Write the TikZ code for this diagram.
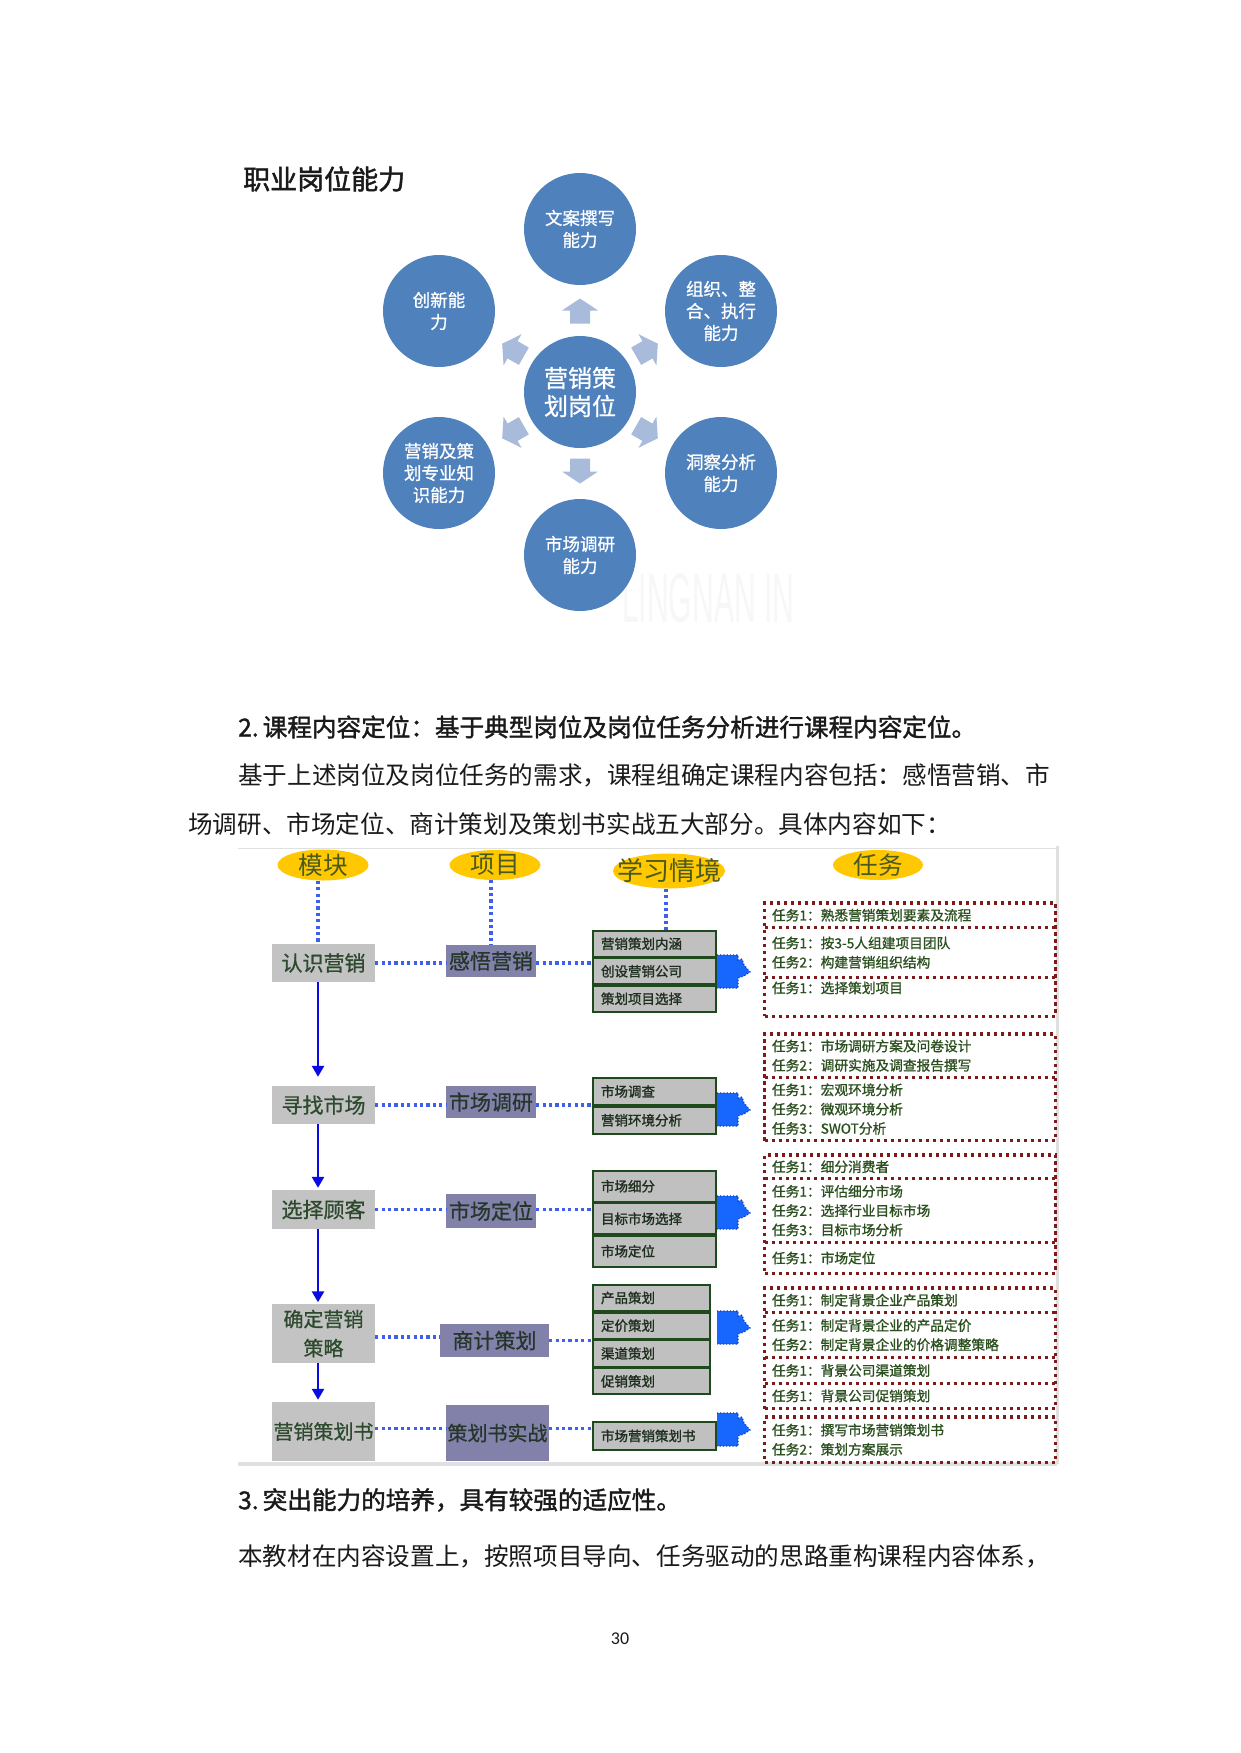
\documentclass[tikz,border=0pt]{standalone}
\usepackage{fontspec}
\setmainfont{Noto Sans CJK SC}
\newfontfamily\cjkb[FakeBold=1.5]{Noto Sans CJK SC}
\newfontfamily\cjkm[FakeBold=0.8]{Noto Sans CJK SC}
\newfontfamily\cjkt[FakeBold=1.1]{Noto Sans CJK SC}
\newfontfamily\cjkh[FakeBold=1.8]{Noto Sans CJK SC}
\newfontfamily\latn{Liberation Sans}
\newfontfamily\pgnum{Carlito}
\usetikzlibrary{shapes.geometric,arrows.meta,fit,calc}
\newcommand\fsz[2]{\fontsize{#1}{#2}\selectfont}
\definecolor{circblue}{HTML}{4F81BD}
\definecolor{arrowc}{HTML}{A8BBDA}
\definecolor{yel}{HTML}{FFC800}
\definecolor{hdrtxt}{HTML}{4A5A1E}
\definecolor{modgray}{HTML}{C3C3C3}
\definecolor{modtxt}{HTML}{2E4A2E}
\definecolor{projc}{HTML}{8181AA}
\definecolor{projtxt}{HTML}{26362A}
\definecolor{lgray}{HTML}{C0C0C0}
\definecolor{lborder}{HTML}{1E4A1E}
\definecolor{ltxt}{HTML}{1F2F1F}
\definecolor{dotblue}{HTML}{3F5FEF}
\definecolor{arrblue}{HTML}{0A0AE6}
\definecolor{blobc}{HTML}{1767FF}
\definecolor{blobedge}{HTML}{0B3DC0}
\definecolor{tred}{HTML}{7F1A1A}
\definecolor{ttxt}{HTML}{2B4F1F}
\definecolor{framec}{HTML}{E0E0E0}
\definecolor{bodytxt}{HTML}{1A1A1A}
\begin{document}
\begin{tikzpicture}[x=1pt,y=-1pt,
  circ/.style={circle, fill=circblue, minimum size=112pt, inner sep=0pt, text=white, align=center, font=\cjkm\fsz{17.5}{22}},
  ctr/.style={circ, font=\cjkm\fsz{24}{28}},
  barrowpic/.pic={
    \fill[arrowc] (-12.5,-10) -- (0.5,-10) -- (0.5,-18) -- (12.5,0) -- (0.5,18) -- (0.5,10) -- (-12.5,10) -- cycle;
  },
  bodyline/.style={anchor=west, inner sep=0pt, text=bodytxt, font=\fsz{24.6}{30}},
  headline/.style={anchor=west, inner sep=0pt, text=bodytxt, font=\cjkb\fsz{24.6}{30}},
  ell/.style={ellipse, fill=yel, inner sep=0pt},
  hdr/.style={inner sep=0pt, text=hdrtxt, font=\fsz{24.6}{26}},
  mod/.style={rectangle, fill=modgray, inner sep=0pt, text=modtxt, font=\cjkm\fsz{21}{29}, align=center, minimum width=103pt},
  proj/.style={rectangle, fill=projc, inner sep=0pt, text=projtxt, font=\cjkm\fsz{21}{25}},
  lrow/.style={rectangle, draw=lborder, line width=1.8pt, fill=lgray, inner xsep=8pt, inner ysep=0pt, text width=107pt, align=left, font=\cjkb\fsz{13.5}{16}, text=ltxt, minimum width=123pt, anchor=north},
  lrowb/.style={lrow, text width=101pt, minimum width=117pt},
  hdot/.style={draw=dotblue, line width=3.2pt, dash pattern=on 3.2pt off 3.2pt},
  sarrow/.style={draw=arrblue, line width=2.6pt, -{Triangle[width=12pt,length=11pt]}},
  trow/.style={rectangle, inner xsep=7pt, inner ysep=0pt, text width=276pt, minimum width=290pt, align=left, font=\cjkt\fsz{13.7}{19.3}, text=ttxt, anchor=north},
  tbox/.style={draw=tred, line width=3.2pt, dash pattern=on 3.2pt off 3.8pt, inner sep=0pt},
  tline/.style={draw=tred, line width=3.2pt, dash pattern=on 3.2pt off 3.8pt},
  blobpic/.pic={
    \fill[blobc] (0,-16) -- (21,-16) -- (21,-11) -- (25,-12) -- (27,-6) -- (33,1) -- (27,5) -- (21,7) -- (21,17) -- (0,17) -- cycle;
    \draw[blobedge, line width=1.2pt, dotted] (0,-16) -- (21,-16) -- (21,-11) -- (25,-12) -- (27,-6) -- (33,1) -- (27,5) -- (21,7) -- (21,17) -- (0,17);
  }
]
\fill[white] (0,0) rectangle (1240,1753);
\useasboundingbox (0,0) rectangle (1240,1753);

% ---------- top diagram ----------
\node[anchor=west, inner sep=0pt, text=bodytxt, font=\cjkh\fsz{27}{30}] (title) at (243,179) {职业岗位能力};

\node[text=black!3, font=\latn\fsz{70}{70}, xscale=0.43, anchor=west, inner sep=0pt] (wm) at (622,598) {LINGNAN IN};

\node[circ] (cT)  at (580,229) {文案撰写\\能力};
\node[circ] (cUR) at (721,311) {组织、整\\合、执行\\能力};
\node[circ] (cLR) at (721,473) {洞察分析\\能力};
\node[circ] (cB)  at (580,555) {市场调研\\能力};
\node[circ] (cLL) at (439,473) {营销及策\\划专业知\\识能力};
\node[circ] (cUL) at (439,311) {创新能\\力};
\node[ctr]  (cC)  at (580,392) {营销策\\划岗位};

\pic[rotate=90]  at (580,311) {barrowpic};
\pic[rotate=-90] at (580,471) {barrowpic};
\pic[rotate=30]  at (647,350) {barrowpic};
\pic[rotate=-30] at (647,432) {barrowpic};
\pic[rotate=150] at (513,350) {barrowpic};
\pic[rotate=210] at (513,432) {barrowpic};

% ---------- text ----------
\node[headline] (h2) at (238,727) {2.\,课程内容定位：基于典型岗位及岗位任务分析进行课程内容定位。};
\node[bodyline] (p1) at (238,775) {基于上述岗位及岗位任务的需求，课程组确定课程内容包括：感悟营销、市};
\node[bodyline] (p2) at (188,824) {场调研、市场定位、商计策划及策划书实战五大部分。具体内容如下：};

% ---------- second diagram frame ----------
\draw[framec, line width=1pt] (238,848) -- (1057,848);
\draw[framec, line width=3pt] (1057,846) -- (1057,1464);
\draw[framec, line width=3.5pt] (238,1464) -- (1057,1464);

% header ellipses
\node[ell, minimum width=91pt, minimum height=31pt] (E1) at (323,865) {};
\node[hdr] (E1t) at (E1) {模块};
\node[ell, minimum width=91pt, minimum height=30pt] (E2) at (495,865) {};
\node[hdr] (E2t) at (E2) {项目};
\node[ell, minimum width=112pt, minimum height=35pt] (E3) at (669,871) {};
\node[hdr, font=\fsz{26}{28}] (E3t) at (E3) {学习情境};
\node[ell, minimum width=90pt, minimum height=30pt] (E4) at (878,865) {};
\node[hdr] (E4t) at (E4) {任务};

% module boxes
\node[mod, minimum height=38pt] (M1) at (323.5,963) {认识营销};
\node[mod, minimum height=38pt] (M2) at (323.5,1105) {寻找市场};
\node[mod, minimum height=39pt] (M3) at (323.5,1209.5) {选择顾客};
\node[mod, minimum height=59pt, font=\cjkm\fsz{20}{29}] (M4) at (323.5,1333.5) {确定营销\\策略};
\node[mod, minimum height=59pt, font=\cjkm\fsz{20}{25}] (M5) at (323.5,1431.5) {营销策划书};

% project boxes
\node[proj, minimum width=90pt, minimum height=32pt] (P1) at (491,961) {感悟营销};
\node[proj, minimum width=90pt, minimum height=32pt] (P2) at (491,1102) {市场调研};
\node[proj, minimum width=90pt, minimum height=34pt] (P3) at (491,1211) {市场定位};
\node[proj, minimum width=109pt, minimum height=33pt] (P4) at (494.5,1340.5) {商计策划};
\node[proj, minimum width=103pt, minimum height=56pt, font=\cjkm\fsz{20}{25}] (P5) at (497.5,1433) {策划书实战};

% learning situation boxes
\node[lrow, minimum height=25.7pt] (L1a) at (654.5,930) {营销策划内涵};
\node[lrow, minimum height=25.7pt] (L1b) at (L1a.south) {创设营销公司};
\node[lrow, minimum height=25.7pt] (L1c) at (L1b.south) {策划项目选择};

\node[lrow, minimum height=27pt] (L2a) at (654.5,1077) {市场调查};
\node[lrow, minimum height=27pt] (L2b) at (L2a.south) {营销环境分析};

\node[lrow, minimum height=30.7pt] (L3a) at (654.5,1170) {市场细分};
\node[lrow, minimum height=30.7pt] (L3b) at (L3a.south) {目标市场选择};
\node[lrow, minimum height=30.7pt] (L3c) at (L3b.south) {市场定位};

\node[lrowb, minimum height=26pt] (L4a) at (651.5,1284) {产品策划};
\node[lrowb, minimum height=26pt] (L4b) at (L4a.south) {定价策划};
\node[lrowb, minimum height=26pt] (L4c) at (L4b.south) {渠道策划};
\node[lrowb, minimum height=26pt] (L4d) at (L4c.south) {促销策划};

\node[lrow, minimum height=28pt] (L5a) at (654.5,1421) {市场营销策划书};

% vertical dotted lines from headers
\draw[hdot] ([xshift=-5pt]E1.south) -- ([xshift=-5pt]E1.south |- M1.north);
\draw[hdot] (P1.north |- E2.south) -- (P1.north);
\draw[hdot] ([xshift=-3pt]E3.south) -- ([xshift=-3pt]E3.south |- L1a.north);

% horizontal dotted connectors
\draw[hdot] (M1.east) -- (M1.east -| P1.west);
\draw[hdot] (M1.east -| P1.east) -- (M1.east -| L1a.west);
\draw[hdot] (M2.east) -- (M2.east -| P2.west);
\draw[hdot] (M2.east -| P2.east) -- (M2.east -| L2a.west);
\draw[hdot] (M3.east) -- (M3.east -| P3.west);
\draw[hdot] (M3.east -| P3.east) -- (M3.east -| L3a.west);
\draw[hdot] ([yshift=-3.5pt]M4.east) -- ([yshift=-3.5pt]M4.east -| P4.west);
\draw[hdot] (P4.east) -- (P4.east -| L4a.west);
\draw[hdot] ([yshift=3pt]M5.east) -- ([yshift=3pt]M5.east -| P5.west);
\draw[hdot] ([yshift=3pt]M5.east -| P5.east) -- ([yshift=3pt]M5.east -| L5a.west);

% solid blue arrows between modules
\draw[sarrow] ([xshift=-5.5pt]M1.south) -- ([xshift=-5.5pt,yshift=9pt]M2.north);
\draw[sarrow] ([xshift=-5.5pt]M2.south) -- ([xshift=-5.5pt,yshift=2pt]M3.north);
\draw[sarrow] ([xshift=-5.5pt]M3.south) -- ([xshift=-5.5pt,yshift=1.5pt]M4.north);
\draw[sarrow] ([xshift=-5.5pt]M4.south) -- ([xshift=-5.5pt,yshift=2pt]M5.north);

% blue blobs
\pic at (717,971) {blobpic};
\pic at (717,1109) {blobpic};
\pic at (717,1212) {blobpic};
\pic at (717,1327) {blobpic};
\pic at (717,1429) {blobpic};

% task boxes
\node[trow, minimum height=24pt] (G1a) at (910,903) {任务1：熟悉营销策划要素及流程};
\node[trow, minimum height=50pt] (G1b) at (G1a.south) {任务1：按3-5人组建项目团队\\任务2：构建营销组织结构};
\node[trow, minimum height=38pt] (G1c) at (G1b.south) {任务1：选择策划项目\\\mbox{}};
\node[tbox, fit=(G1a)(G1c)] (G1) {};
\draw[tline] (G1a.south west) -- (G1a.south east);
\draw[tline] (G1b.south west) -- (G1b.south east);

\node[trow, minimum height=43pt] (G2a) at (910,1034) {任务1：市场调研方案及问卷设计\\任务2：调研实施及调查报告撰写};
\node[trow, minimum height=63pt] (G2b) at (G2a.south) {任务1：宏观环境分析\\任务2：微观环境分析\\任务3：SWOT分析};
\node[tbox, fit=(G2a)(G2b)] (G2) {};
\draw[tline] (G2a.south west) -- (G2a.south east);

\node[trow, minimum height=23pt] (G3a) at (910,1155) {任务1：细分消费者};
\node[trow, minimum height=64pt] (G3b) at (G3a.south) {任务1：评估细分市场\\任务2：选择行业目标市场\\任务3：目标市场分析};
\node[trow, minimum height=30pt] (G3c) at (G3b.south) {任务1：市场定位};
\node[tbox, fit=(G3a)(G3c)] (G3) {};
\draw[tline] (G3a.south west) -- (G3a.south east);
\draw[tline] (G3b.south west) -- (G3b.south east);

\node[trow, minimum height=24pt] (G4a) at (910,1288) {任务1：制定背景企业产品策划};
\node[trow, minimum height=45pt] (G4b) at (G4a.south) {任务1：制定背景企业的产品定价\\任务2：制定背景企业的价格调整策略};
\node[trow, minimum height=25pt] (G4c) at (G4b.south) {任务1：背景公司渠道策划};
\node[trow, minimum height=25pt] (G4d) at (G4c.south) {任务1：背景公司促销策划};
\node[tbox, fit=(G4a)(G4d)] (G4) {};
\draw[tline] (G4a.south west) -- (G4a.south east);
\draw[tline] (G4b.south west) -- (G4b.south east);
\draw[tline] (G4c.south west) -- (G4c.south east);

\node[trow, minimum height=45pt] (G5a) at (910,1417) {任务1：撰写市场营销策划书\\任务2：策划方案展示};
\node[tbox, fit=(G5a)] (G5) {};

% ---------- bottom text ----------
\node[headline] (h3) at (238,1500) {3.\,突出能力的培养，具有较强的适应性。};
\node[bodyline] (p3) at (238,1556) {本教材在内容设置上，按照项目导向、任务驱动的思路重构课程内容体系，};
\node[inner sep=0pt, text=bodytxt, font=\pgnum\fsz{18}{20}] (pg) at (620,1639) {30};
\end{tikzpicture}
\end{document}
